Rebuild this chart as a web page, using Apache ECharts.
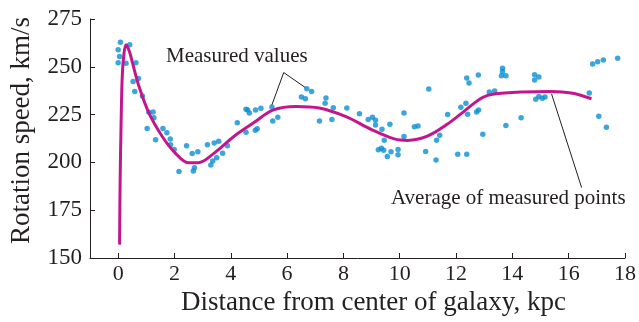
<!DOCTYPE html>
<html>
<head>
<meta charset="utf-8">
<script src="https://cdn.jsdelivr.net/npm/echarts@6/dist/echarts.min.js"></script>
<style>
html,body{margin:0;padding:0;background:#fff;}
#chart{width:639px;height:322px;}
</style>
</head>
<body>
<div id="chart"></div>
<script>
// Measured values (distance kpc, rotation speed km/s)
const measuredX = [0.08,0.0,0.05,0.0,0.41,0.28,0.63,0.53,0.72,0.59,0.86,1.09,1.24,1.27,1.03,1.33,1.59,1.73,1.85,1.86,1.99,
  2.16,2.43,2.63,2.83,2.71,2.67,3.17,3.41,3.57,3.88,3.71,3.5,3.36,3.29,4.23,
  4.54,4.6,4.66,4.88,5.07,4.54,4.87,4.94,5.46,5.49,5.67,6.7,6.87,6.51,6.65,7.38,7.35,7.64,7.15,7.59,8.12,8.57,8.88,
  9.03,9.14,9.14,9.37,9.45,9.65,9.24,9.35,9.43,9.56,9.69,9.94,9.94,10.15,10.15,10.52,10.65,11.03,10.92,11.29,11.7,11.31,11.42,
  12.17,12.35,12.41,12.06,12.38,12.38,12.46,12.79,12.73,12.8,12.95,13.18,13.37,13.65,13.65,13.61,13.77,
  13.77,14.31,14.79,14.94,14.79,14.83,14.94,15.06,15.16,16.73,16.85,17.03,17.23,17.74,17.07,17.34];
const measuredY = [262.9,258.9,255.4,252.1,261.5,251.9,252.1,242.3,243.9,237.1,234.7,226.2,226.4,223.3,217.7,211.8,217.7,215.5,212.3,209.2,206.8,
  195.2,208.7,204.7,205.6,197.2,195.5,209.2,210.1,211.1,208.7,204.8,202.4,200.7,198.6,220.7,
  227.8,227.4,225.9,227.4,228.3,215.8,216.8,217.6,229.0,221.7,223.6,238.5,237.1,234.2,233.3,233.7,230.9,228.6,221.7,222.4,228.5,225.5,222.4,
  223.6,222.0,219.6,217.3,211.6,220.0,206.6,207.4,206.3,203.1,205.6,206.8,204.0,225.9,213.5,218.6,219.1,238.4,205.7,201.2,225.0,211.6,214.2,
  228.8,230.9,225.2,204.3,204.3,244.1,241.5,245.7,226.4,227.4,214.7,236.8,237.3,249.3,247.6,245.3,245.3,
  219.3,223.3,245.8,244.6,243.1,233.0,234.5,233.5,234.2,236.3,251.4,252.6,253.5,254.5,224.1,218.4];

// Average of measured points (curve)
const averageX = [0.05,0.07,0.1,0.14,0.2,0.28,0.4,0.51,0.74,1.09,1.56,2.02,2.49,2.84,3.42,4.12,4.81,5.51,6.32,7.14,8.07,9.0,9.81,10.28,10.98,11.67,12.14,12.6,12.95,13.3,14.35,15.39,16.09,16.81];
const averageY = [157,190,217,243,256,261.5,258,252,239.7,225.9,213.7,205,199.8,199.8,205,213.7,220.7,227.5,229.3,228.5,224.1,217.2,212.3,211.5,213.7,219.8,225,230.5,234,235.6,236.8,237.1,236.3,233.3];

const xTickValues = [0,2,4,6,8,10,12,14,16,18];
const xAxisTitle = 'Distance from center of galaxy, kpc';
const yAxisTitle = 'Rotation speed, km/s';
const labelMeasured = 'Measured values';
const labelAverage = 'Average of measured points';

// leader lines for annotations (data coords)
const leaderMeasuredA = [[5.88,247.0],[5.45,229.7]];
const leaderMeasuredB = [[5.88,247.0],[6.67,238.9]];
const leaderAverage = [[15.39,235.9],[16.46,186.8]];

const scatterData = measuredX.map((x,i)=>[x, measuredY[i]]);
const curveData = averageX.map((x,i)=>[x, averageY[i]]);

const FONT = 'Liberation Serif';
const TXT = '#231f20';
const chart = echarts.init(document.getElementById('chart'), null, {renderer:'canvas'});

const leaderStyle = {type:'line', symbol:'none', silent:true, lineStyle:{color:'#231f20', width:1}, z:1, animation:false};

chart.setOption({
  animation:false,
  backgroundColor:'#fff',
  grid:{left:84, right:11, top:19, bottom:64, containLabel:false},
  xAxis:{
    type:'value', min:-1, max:18,
    axisLine:{onZero:false, lineStyle:{color:TXT, width:1}},
    axisTick:{inside:true, length:5, customValues:xTickValues, lineStyle:{color:TXT}},
    axisLabel:{customValues:xTickValues, fontFamily:FONT, fontSize:22, color:TXT, margin:5},
    splitLine:{show:false},
    name:xAxisTitle, nameLocation:'middle', nameGap:30,
    nameTextStyle:{fontFamily:FONT, fontSize:27, color:TXT, padding:[0,0,0,32]}
  },
  yAxis:{
    type:'value', min:150, max:275, interval:25,
    axisLine:{show:true, onZero:false, lineStyle:{color:TXT, width:1}},
    axisTick:{show:true, inside:true, length:5, lineStyle:{color:TXT}},
    axisLabel:{fontFamily:FONT, fontSize:23, color:TXT, margin:8},
    splitLine:{show:false},
    name:yAxisTitle, nameLocation:'middle', nameGap:55,
    nameTextStyle:{fontFamily:FONT, fontSize:27, color:TXT, padding:[0,0,0,16]}
  },
  series:[
    Object.assign({data:leaderMeasuredA}, leaderStyle),
    Object.assign({data:leaderMeasuredB}, leaderStyle),
    Object.assign({data:leaderAverage}, leaderStyle),
    {
      name:'Measured values', type:'scatter', data:scatterData,
      symbol:'circle', symbolSize:5.5,
      itemStyle:{color:'#0b8ed3'}, z:2
    },
    {
      name:'Average of measured points', type:'line', data:curveData,
      smooth:0.35, symbol:'none',
      lineStyle:{color:'#c4168c', width:3}, z:3
    }
  ],
  graphic:[
    {type:'text', left:166, top:46, style:{text:labelMeasured, font:'21px "Liberation Serif"', fill:TXT}},
    {type:'text', left:391, top:188, style:{text:labelAverage, font:'21px "Liberation Serif"', fill:TXT}}
  ]
});
</script>
</body>
</html>
